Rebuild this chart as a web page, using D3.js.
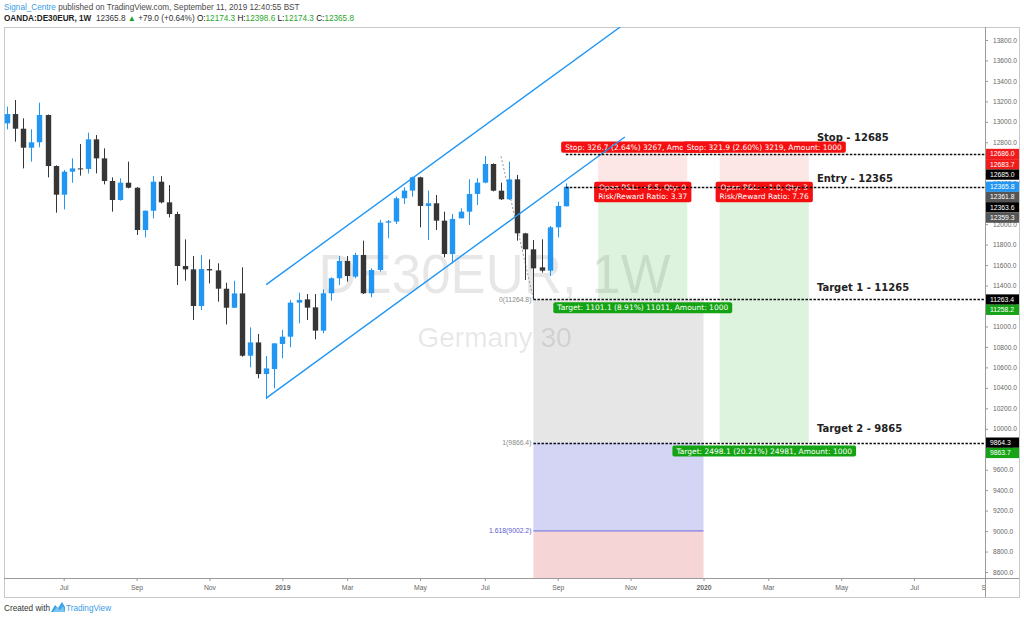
<!DOCTYPE html>
<html><head><meta charset="utf-8">
<script src="https://cdn.jsdelivr.net/npm/d3@7"></script>
<style>body{margin:0;background:#fff;} svg{display:block;}</style>
</head><body>
<script>
// ---------- DATA ----------
const firstWeek = "2018-05-14";
const opens  = [12985,13076,12933,12747,12800,13067,12568,12288,12513,12545,12540,12829,12643,12422,12236,12405,12356,11943,12131,12415,12213,12099,11591,11558,11200,11561,11548,11369,11183,11323,10714,10844,10535,10584,10829,10900,11233,11265,11187,10959,11324,11471,11640,11487,11699,11324,11552,12015,12025,12253,12328,12458,12178,12204,12034,11708,12057,12122,12295,12406,12588,12327,12243,12438,11910,11754,11578,11545,11969,12174.3];
const highs  = [13148,13213,13034,12927,13187,13072,12575,12530,12643,12783,12894,12871,12741,12457,12448,12611,12362,12135,12470,12470,12382,12122,11851,11688,11698,11656,11617,11428,11447,11578,10991,10926,10711,10835,10966,11259,11330,11317,11317,11363,11480,11689,11689,11721,11839,11568,12041,12041,12269,12360,12464,12464,12328,12285,12122,12099,12155,12438,12448,12666,12594,12406,12611,12481,11915,11845,11852,11982,12220,12398.6];
const lows   = [12927,12806,12545,12611,12751,12457,12112,12145,12405,12474,12496,12496,12389,12122,12230,12350,11894,11871,12057,12203,12066,11405,11447,11063,11161,11421,11242,11020,11180,10704,10600,10493,10290,10395,10689,10796,11031,11063,10874,10933,11252,11405,11438,11471,11317,11285,11536,11862,12002,12197,12269,11969,11845,11943,11676,11617,12057,11992,12187,12399,12320,12236,12236,11839,11454,11265,11526,11493,11871,12174.3];
const closes = [13076,12933,12747,12800,13067,12568,12288,12513,12545,12540,12829,12643,12422,12236,12405,12356,11943,12131,12415,12213,12099,11591,11558,11200,11561,11548,11369,11183,11323,10714,10844,10535,10590,10835,10900,11233,11259,11184,10959,11324,11471,11640,11493,11699,11324,11552,12015,12028,12253,12328,12458,12178,12204,12034,11708,12051,12122,12295,12406,12588,12327,12243,12438,11910,11754,11568,11545,11969,12178,12365.8];

const priceTicks = [8600,8800,9000,9200,9400,9600,9800,10000,10200,10400,10600,10800,11000,11200,11400,11600,11800,12000,12200,12400,12600,12800,13000,13200,13400,13600,13800];
const timeTickDates  = ["2018-07-02","2018-09-03","2018-11-05","2019-01-07","2019-03-04","2019-05-06","2019-07-01","2019-09-02","2019-11-04","2020-01-06","2020-03-02","2020-05-04","2020-07-06","2020-09-07"];
const timeTickLabels = ["Jul","Sep","Nov","2019","Mar","May","Jul","Sep","Nov","2020","Mar","May","Jul","Sep"];

const channelUpper = [["2018-12-24",11409],["2019-10-26",13927]];
const channelLower = [["2018-12-24",10300],["2019-10-30",12852]];
const fibTrend = [["2019-07-15",12663.2],["2019-08-12",11264.8]];
const fibRange = ["2019-08-12","2020-01-06"];
const fibLevels = [{k:"0",v:11264.8},{k:"1",v:9866.4},{k:"1.618",v:9002.2}];

const positions = [
  {from:"2019-10-07", to:"2019-12-23", entry:12365, stop:12685, target:11265,
   stopText:"Stop: 326.7 (2.64%) 3267, Amount: 1000",
   midText:["Open P&L: \u22126.5, Qty: 0","Risk/Reward Ratio: 3.37"],
   targetText:"Target: 1101.1 (8.91%) 11011, Amount: 1000"},
  {from:"2020-01-20", to:"2020-04-06", entry:12365, stop:12685, target:9865,
   stopText:"Stop: 321.9 (2.60%) 3219, Amount: 1000",
   midText:["Open P&L: \u22121.0, Qty: 3","Risk/Reward Ratio: 7.76"],
   targetText:"Target: 2498.1 (20.21%) 24981, Amount: 1000"}
];
// dashed horizontal levels, with the price at which each text note is anchored
const levelLines = [
  {v:12685, from:"2019-09-09", text:"Stop - 12685",     textAt:12812},
  {v:12365, from:"2019-09-09", text:"Entry - 12365",    textAt:12412},
  {v:11265, from:"2019-08-12", text:"Target 1 - 11265", textAt:11344},
  {v:9865,  from:"2019-08-12", text:"Target 2 - 9865",  textAt:9968}
];
const textNoteDate = "2020-04-13";
const priceLabels = [
  {v:12686.0,c:"#f21b1b"},{v:12683.7,c:"#f21b1b"},{v:12685.0,c:"#000000"},
  {v:12365.8,c:"#2196f3"},{v:12361.8,c:"#555555"},{v:12363.6,c:"#000000"},{v:12359.3,c:"#555555"},
  {v:11263.4,c:"#000000"},{v:11258.2,c:"#17a317"},
  {v:9864.3,c:"#000000"},{v:9863.7,c:"#17a317"}
];

// ---------- SETUP ----------
const W=1024,H=619;
const P={l:4,r:985,t:27,b:578};
const parse = s => new Date(s+"T00:00:00Z");
const svg=d3.select("body").append("svg").attr("width",W).attr("height",H)
  .style("font-family","'Liberation Sans',Arial,sans-serif");
const x=d3.scaleUtc().domain([parse("2018-07-02"),parse("2020-01-06")]).range([63.7,703.5]);
const y=d3.scaleLinear().domain([8600,13800]).range([572,40]);

const defs=svg.append("defs");
defs.append("clipPath").attr("id","plot").append("rect")
  .attr("x",P.l).attr("y",P.t).attr("width",P.r-P.l).attr("height",P.b-P.t);
defs.append("clipPath").attr("id","taxis").append("rect")
  .attr("x",P.l).attr("y",P.b).attr("width",P.r-P.l).attr("height",20);

// ---------- HEADER ----------
const h1=svg.append("text").attr("x",4).attr("y",10).attr("font-size",8.2).attr("fill","#4a4a4a");
h1.append("tspan").attr("fill","#3a9be6").text("Signal_Centre");
h1.append("tspan").text(" published on TradingView.com, September 11, 2019 12:40:55 BST");
const h2=svg.append("text").attr("x",4).attr("y",21).attr("font-size",8.2).attr("fill","#333");
h2.append("tspan").attr("font-weight","bold").attr("fill","#222").text("OANDA:DE30EUR, 1W");
h2.append("tspan").text("\u00a0 12365.8 ");
h2.append("tspan").attr("fill","#22a022").text("\u25B2");
h2.append("tspan").text(" +79.0 (+0.64%) ");
[["O:","12174.3"],["H:","12398.6"],["L:","12174.3"],["C:","12365.8"]].forEach(([k,v],i)=>{
  h2.append("tspan").attr("fill","#111").text(k);
  h2.append("tspan").attr("fill","#2aa52a").text(v+(i<3?" ":""));
});

// ---------- FRAME ----------
svg.append("rect").attr("x",4.5).attr("y",27.5).attr("width",1015).attr("height",570)
  .attr("fill","none").attr("stroke","#c8c8c8");

const g=svg.append("g").attr("clip-path","url(#plot)");

// fib zones
const fx0=x(parse(fibRange[0])), fx1=x(parse(fibRange[1]));
const [f0,f1,f2]=fibLevels.map(d=>d.v);
g.append("rect").attr("x",fx0).attr("width",fx1-fx0).attr("y",y(f0)).attr("height",y(f1)-y(f0)).attr("fill","#e6e6e6");
g.append("rect").attr("x",fx0).attr("width",fx1-fx0).attr("y",y(f1)).attr("height",y(f2)-y(f1)).attr("fill","#d4d4f5");
g.append("rect").attr("x",fx0).attr("width",fx1-fx0).attr("y",y(f2)).attr("height",P.b-y(f2)).attr("fill","#f5d5d5");
g.append("line").attr("x1",fx0).attr("x2",fx1).attr("y1",y(f2)).attr("y2",y(f2)).attr("stroke","#8080e0").attr("stroke-width",1.2);
fibLevels.forEach(d=>{
  g.append("text").attr("x",fx0-2).attr("y",y(d.v)+2.5).attr("text-anchor","end")
   .attr("font-size",6.8).attr("fill",d.k==="1.618"?"#5a5ad0":"#8a8a8a").text(`${d.k}(${d.v.toFixed(1)})`);
});

// position zones
positions.forEach(p=>{
  const a=x(parse(p.from)), b=x(parse(p.to));
  g.append("rect").attr("x",a).attr("width",b-a).attr("y",y(p.stop)).attr("height",y(p.entry)-y(p.stop)).attr("fill","#fde6e6");
  g.append("rect").attr("x",a).attr("width",b-a).attr("y",y(p.entry)).attr("height",y(p.target)-y(p.entry)).attr("fill","#ddf3dd");
});

// watermark (semi-transparent, over zones)
const cx=(P.l+P.r)/2;
g.append("text").attr("x",cx).attr("y",293).attr("text-anchor","middle")
  .attr("font-size",55).attr("textLength",352).attr("lengthAdjust","spacingAndGlyphs")
  .attr("fill","#000").attr("fill-opacity",0.095).text("DE30EUR, 1W");
g.append("text").attr("x",cx).attr("y",347).attr("text-anchor","middle")
  .attr("font-size",28).attr("fill","#000").attr("fill-opacity",0.1).text("Germany 30");

// fib trend dotted
g.append("line").attr("x1",x(parse(fibTrend[0][0]))).attr("y1",y(fibTrend[0][1]))
  .attr("x2",x(parse(fibTrend[1][0]))).attr("y2",y(fibTrend[1][1]))
  .attr("stroke","#999").attr("stroke-width",1).attr("stroke-dasharray","2,2");

// candles
const candles=opens.map((o,i)=>({d:d3.utcMonday.offset(parse(firstWeek),i),o,h:highs[i],l:lows[i],c:closes[i]}));
const cg=g.append("g");
candles.forEach(k=>{
  const cxk=Math.round(x(k.d))+0.5;
  const up=k.c>=k.o;
  const col=up?"#2196f3":"#363636";
  cg.append("line").attr("x1",cxk).attr("x2",cxk).attr("y1",y(k.h)).attr("y2",y(k.l)).attr("stroke",col).attr("stroke-width",1);
  const top=y(Math.max(k.o,k.c)), bot=y(Math.min(k.o,k.c));
  cg.append("rect").attr("x",cxk-2.7).attr("width",5.4).attr("y",top).attr("height",Math.max(1,bot-top)).attr("fill",col);
});

// position label boxes
const DJ="'DejaVu Sans',Verdana,sans-serif";
function box(cxp,topY,lines,fill){
  const gg=g.append("g");
  const r=gg.append("rect").attr("fill",fill).attr("rx",2);
  const ts=lines.map((t,i)=>gg.append("text").attr("x",cxp).attr("y",topY+8.3+i*9.3).attr("text-anchor","middle")
      .attr("font-family",DJ).attr("font-size",7.5).attr("fill","#fff").text(t));
  const w=d3.max(ts,t=>t.node().getComputedTextLength())+8;
  r.attr("x",cxp-w/2).attr("width",w).attr("y",topY).attr("height",lines.length*9.3+1.8);
}
positions.forEach(p=>{
  const a=x(parse(p.from)), b=x(parse(p.to)), m=(a+b)/2;
  box(m,y(p.stop)-12.5,[p.stopText],"#f41010");
  box(m,y(p.entry)-5,p.midText,"#f41010");
  box(m,y(p.target)+2.8,[p.targetText],"#13a313");
});

// channel lines
[channelUpper,channelLower].forEach(L=>{
  g.append("line").attr("x1",x(parse(L[0][0]))).attr("y1",y(L[0][1]))
   .attr("x2",x(parse(L[1][0]))).attr("y2",y(L[1][1]))
   .attr("stroke","#2196f3").attr("stroke-width",1.4);
});

// dashed level lines and text notes
levelLines.forEach(L=>{
  const yy=Math.round(y(L.v))+0.5;
  g.append("line").attr("x1",x(parse(L.from))).attr("x2",P.r).attr("y1",yy).attr("y2",yy)
   .attr("stroke","#111").attr("stroke-width",1.3).attr("stroke-dasharray","2.5,1.5");
  g.append("text").attr("x",x(parse(textNoteDate))).attr("y",y(L.textAt)).attr("font-family",DJ).attr("font-weight","bold")
   .attr("font-size",10).attr("fill","#222").text(L.text);
});

// ---------- AXES ----------
svg.append("line").attr("x1",P.r+0.5).attr("x2",P.r+0.5).attr("y1",P.t).attr("y2",597).attr("stroke","#9a9a9a");
svg.append("line").attr("x1",P.l).attr("x2",1019).attr("y1",P.b+0.5).attr("y2",P.b+0.5).attr("stroke","#9a9a9a");

const ya=svg.append("g").attr("transform",`translate(${P.r},0)`)
  .call(d3.axisRight(y).tickValues(priceTicks).tickFormat(d3.format(".1f")).tickSize(3).tickPadding(5));
ya.select(".domain").remove();
ya.selectAll("line").attr("stroke","#999");
ya.selectAll("text").attr("font-size",6.6).attr("fill","#666").attr("font-family","'Liberation Sans',Arial,sans-serif");

const xa=svg.append("g").attr("clip-path","url(#taxis)").append("g").attr("transform",`translate(0,${P.b})`)
  .call(d3.axisBottom(x).tickValues(timeTickDates.map(parse)).tickFormat((d,i)=>timeTickLabels[i]).tickSize(3).tickPadding(4));
xa.select(".domain").remove();
xa.selectAll("line").attr("stroke","#999");
xa.selectAll("text").attr("font-size",6.8).attr("fill","#666").attr("font-family","'Liberation Sans',Arial,sans-serif")
  .attr("font-weight",(d,i)=>/^\d{4}$/.test(timeTickLabels[i])?"bold":"normal");

// price label boxes, stacked
let lastY=-1e9;
const bh=10.3;
priceLabels.forEach(p=>{
  let cyy=Math.max(y(p.v), lastY+bh);
  lastY=cyy;
  svg.append("rect").attr("x",P.r+1).attr("width",33).attr("y",cyy-bh/2).attr("height",bh).attr("fill",p.c);
  svg.append("text").attr("x",P.r+5).attr("y",cyy+2.4).attr("font-size",6.8).attr("fill","#fff").text(p.v.toFixed(1));
});

// ---------- FOOTER ----------
svg.append("text").attr("x",4).attr("y",611).attr("font-size",8.2).attr("fill","#333").text("Created with");
const lg=svg.append("g").attr("transform","translate(51,602)");
lg.append("path").attr("d","M0,10 L4,3 L7,6 L11,0 L14,5 L14,10 Z").attr("fill","#3ba3e6");
lg.append("path").attr("d","M2,10 L6,5 L9,8 L12,4 L14,10 Z").attr("fill","#7cc5f0");
svg.append("text").attr("x",66).attr("y",611).attr("font-size",8.2).attr("fill","#3a9be6").text("TradingView");
</script>
</body></html>
